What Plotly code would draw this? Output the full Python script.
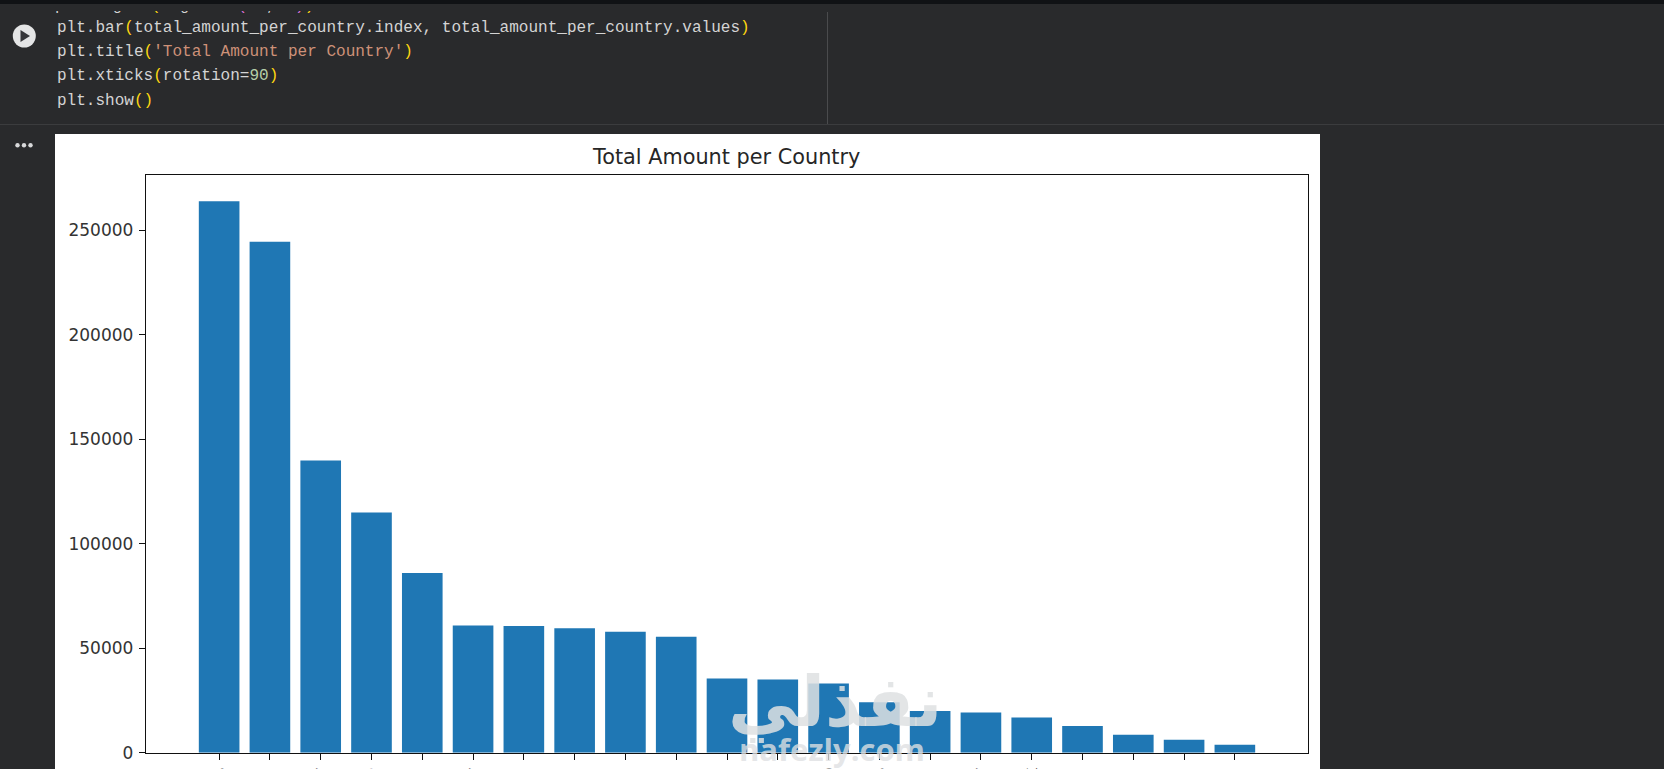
import plotly.graph_objects as go

# Data
countries = ["United States", "Canada", "Germany", "France", "Spain", "Italy", "Japan", "Australia",
             "United Kingdom", "Brazil", "India", "China", "Mexico", "Netherlands", "Sweden",
             "Norway", "Denmark", "Belgium", "Austria", "Poland", "Finland"]
total_amount = [264000, 244600, 139900, 115000, 86000, 60900, 60700, 59600, 57900, 55500, 35500,
                35000, 33100, 24100, 20000, 19300, 16900, 12800, 8600, 6200, 3800]
y_ticks = [0, 50000, 100000, 150000, 200000, 250000]

W, H = 1664, 769
BG = "#292a2c"


def px(v):
    return v / W


def py(v):
    return 1 - v / H


# Code cell text
PLAIN = "#d4d4d4"
YEL = "#ffd710"
PINK = "#da70d6"
STR = "#ce9178"
NUM = "#b5cea8"


def col(text, c):
    return f'<span style="color:{c}">{text}</span>'


code_lines = [
    "plt.bar" + col("(", YEL) + "total_amount_per_country.index, total_amount_per_country.values" + col(")", YEL),
    "plt.title" + col("(", YEL) + col("'Total Amount per Country'", STR) + col(")", YEL),
    "plt.xticks" + col("(", YEL) + "rotation=" + col("90", NUM) + col(")", YEL),
    "plt.show" + col("()", YEL),
]
clipped_line = ("plt.figure" + col("(", YEL) + "figsize=" + col("(", PINK) + col("10", NUM) + ", "
                + col("6", NUM) + col(")", PINK) + col(")", YEL))

fig = go.Figure()
fig.add_trace(go.Bar(x=countries, y=total_amount, width=0.8, marker_color="#1f77b4", marker_line_width=0))

# line cut off by the top of the cell, clipped through its own small axis
fig.add_trace(go.Scatter(x=[55], y=[0], mode="text", text=[clipped_line], textposition="top right",
                         textfont=dict(family="Liberation Mono", size=16, color=PLAIN),
                         xaxis="x2", yaxis="y2", cliponaxis=True))

shapes = [
    dict(type="rect", xref="paper", yref="paper", x0=0, x1=1, y0=py(4), y1=1,
         fillcolor="#101215", line_width=0, layer="below"),
    dict(type="line", xref="paper", yref="paper", x0=0, x1=1, y0=py(124.5), y1=py(124.5),
         line=dict(color="#3b3c3e", width=1), layer="below"),
    dict(type="line", xref="paper", yref="paper", x0=px(827.5), x1=px(827.5), y0=py(12), y1=py(124),
         line=dict(color="#4a4b4d", width=1), layer="below"),
    dict(type="rect", xref="paper", yref="paper", x0=px(55), x1=px(1320), y0=0, y1=py(134),
         fillcolor="white", line_width=0, layer="below"),
    # run button
    dict(type="circle", xref="paper", yref="paper", x0=px(12.8), x1=px(35.8), y0=py(47.5), y1=py(24.5),
         fillcolor="#e4e5e6", line_width=0, layer="below"),
    dict(type="path", xref="paper", yref="paper",
         path=f"M {px(20.5)} {py(30)} L {px(30)} {py(36)} L {px(20.5)} {py(42)} Z",
         fillcolor="#35363a", line_width=0, layer="below"),
]
for dot_x in [17.5, 24, 30.5]:
    shapes.append(dict(type="circle", xref="paper", yref="paper", x0=px(dot_x - 2.2), x1=px(dot_x + 2.2),
                       y0=py(147.4), y1=py(143), fillcolor="#d8d9da", line_width=0, layer="below"))

annotations = []
for i, line in enumerate(code_lines):
    annotations.append(dict(text=line, xref="paper", yref="paper", x=px(55.2), y=py(27.5 + i * 24.4),
                            xanchor="left", yanchor="middle", showarrow=False, align="left",
                            font=dict(family="Liberation Mono", size=16.05, color=PLAIN)))

# watermark
annotations.append(dict(text="<b>نفذلي</b>", xref="paper", yref="paper", x=px(835), y=py(702),
                        xanchor="center", yanchor="middle", showarrow=False,
                        font=dict(family="DejaVu Sans", size=70, color="rgba(222,224,226,0.85)")))
annotations.append(dict(text="<b>nafezly.com</b>", xref="paper", yref="paper", x=px(832), y=py(749),
                        xanchor="center", yanchor="middle", showarrow=False,
                        font=dict(family="Open Sans", size=31, color="rgba(222,224,226,0.8)")))

fig.update_layout(
    width=W, height=H,
    margin=dict(l=0, r=0, t=0, b=0),
    paper_bgcolor=BG,
    plot_bgcolor="rgba(0,0,0,0)",
    showlegend=False,
    font=dict(family="DejaVu Sans", size=17, color="#333333"),
    title=dict(text="Total Amount per Country", x=px(726.7), xanchor="center", xref="paper",
               y=py(157), yanchor="middle", yref="paper",
               font=dict(family="DejaVu Sans", size=20.8, color="#262626")),
    xaxis=dict(domain=[px(146), px(1308)], range=[-1.44, 21.44], type="category",
               tickangle=-90, ticks="outside", ticklen=6, tickwidth=1.3, tickcolor="#111111",
               showline=True, linecolor="#111111", linewidth=1.4, mirror=True, showgrid=False,
               zeroline=False, automargin=False, ticklabelstandoff=1, tickfont=dict(size=17)),
    yaxis=dict(domain=[py(752.7), py(174.5)], range=[0, 276800], tickvals=y_ticks,
               tickformat="d", ticks="outside", ticklen=6, tickwidth=1.3, tickcolor="#111111",
               showline=True, linecolor="#111111", linewidth=1.4, mirror=True, showgrid=False,
               zeroline=False, automargin=False, ticklabelstandoff=2, tickfont=dict(size=17)),
    xaxis2=dict(domain=[0, 1], range=[0, W], visible=False, anchor="y2", fixedrange=True),
    yaxis2=dict(domain=[py(14), py(11)], range=[0, 1], visible=False, anchor="x2", fixedrange=True),
    shapes=shapes,
    annotations=annotations,
)

fig.write_html("out.html", config={"displayModeBar": False},
               post_script="document.body.style.margin='0';document.body.style.overflow='hidden';")
